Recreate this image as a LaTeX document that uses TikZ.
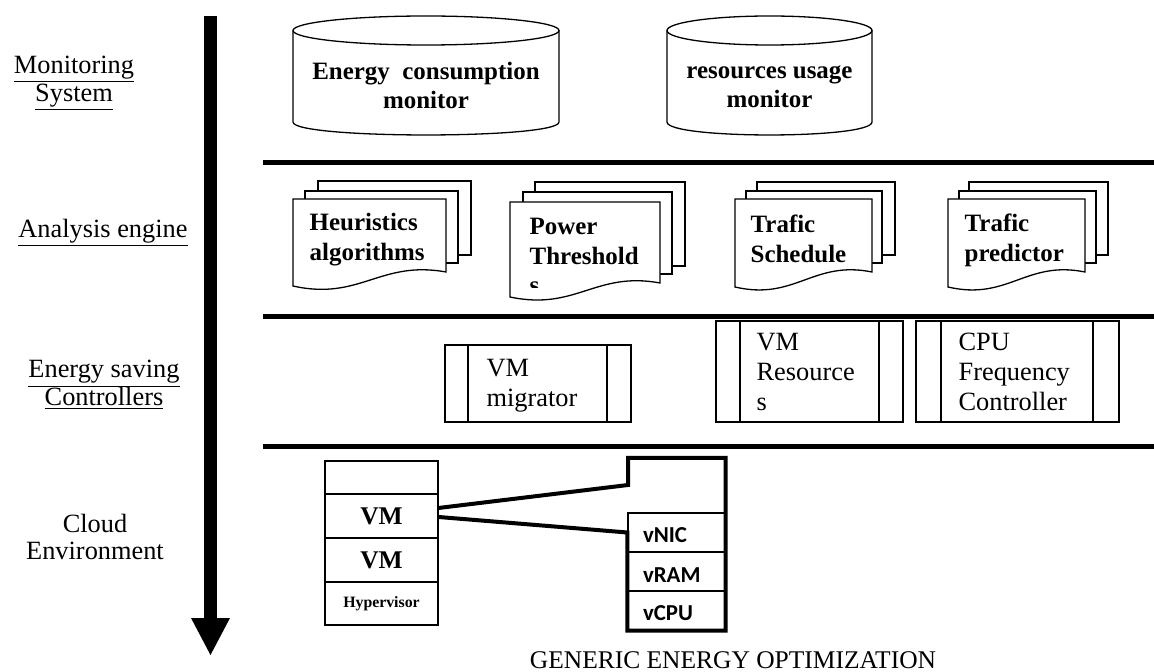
\documentclass[tikz,border=0pt]{standalone}
\usepackage{fontspec}
\setmainfont{Liberation Serif}
\newfontfamily\vrowfont{Carlito}
\newlength{\du}
\setlength{\du}{0.020000cm}

\begin{document}
\begin{tikzpicture}[even odd rule,
  sidelabel/.style={align=center,inner sep=0pt,font=\fontsize{15}{15.9}\selectfont},
  cyllabel/.style={align=center,inner sep=0pt,font=\bfseries\fontsize{14.2}{16.5}\selectfont},
  doclabel/.style={align=left,anchor=west,inner sep=0pt,font=\bfseries\fontsize{14.2}{17}\selectfont},
  ctllabel/.style={align=left,anchor=west,inner sep=0pt,font=\fontsize{15}{17}\selectfont},
  sheet/.style={draw=dialinecolor,fill=diafillcolor},
  stackrow/.style={draw=dialinecolor,line width=1.300000\du,minimum width=113\du,inner sep=0pt,font=\bfseries\fontsize{14.5}{16}\selectfont},
  vrow/.style={draw=dialinecolor,line width=1.300000\du,minimum height=39\du,text width=67\du,text height=12pt,inner xsep=15\du,inner ysep=0pt,align=left,font=\vrowfont\bfseries\fontsize{13}{15}\selectfont}]
\pgftransformxscale{1.000000}
\pgftransformyscale{-1.000000}
\definecolor{dialinecolor}{rgb}{0.000000, 0.000000, 0.000000}
\pgfsetstrokecolor{dialinecolor}
\definecolor{diafillcolor}{rgb}{1.000000, 1.000000, 1.000000}
\pgfsetfillcolor{diafillcolor}
\useasboundingbox (0.000000\du,0.000000\du) rectangle (1154.000000\du,672.000000\du);
\pgfsetmiterjoin
\pgfsetbuttcap
% big downward arrow
\fill[dialinecolor] (204.000000\du,16.000000\du)--(217.000000\du,16.000000\du)--(217.000000\du,619.000000\du)--(204.000000\du,619.000000\du)--cycle;
\fill[dialinecolor] (191.000000\du,618.000000\du)--(230.000000\du,618.000000\du)--(210.500000\du,655.000000\du)--cycle;
% layer names
\node[sidelabel] (monsys) at (74.000000\du,83.000000\du) {\underline{Monitoring}\\\underline{System}};
\node[sidelabel] (anaeng) at (103.000000\du,233.000000\du) {\underline{Analysis engine}};
\node[sidelabel] (savctl) at (104.000000\du,385.000000\du) {\underline{Energy saving}\\\underline{Controllers}};
\node[sidelabel] (cloudenv) at (95.000000\du,537.000000\du) {Cloud\\Environment};
% layer separators
\pgfsetlinewidth{5.000000\du}
\draw (263.000000\du,163.000000\du)--(1154.000000\du,163.000000\du);
\draw (263.000000\du,317.000000\du)--(1154.000000\du,317.000000\du);
\draw (263.000000\du,447.000000\du)--(1154.000000\du,447.000000\du);
% monitors
\pgfsetlinewidth{1.300000\du}
\draw[fill=diafillcolor] (293.000000\du,30.500000\du)--(293.000000\du,122.000000\du) .. controls (293.000000\du,139.300000\du) and (559.000000\du,139.300000\du) .. (559.000000\du,122.000000\du)--(559.000000\du,30.500000\du);
\draw[fill=diafillcolor] (426.000000\du,30.500000\du) ellipse [x radius=133.000000\du, y radius=14.500000\du];
\node[cyllabel] (emon) at (426.000000\du,85.000000\du) {Energy\ \ consumption\\monitor};
\draw[fill=diafillcolor] (667.000000\du,30.500000\du)--(667.000000\du,122.000000\du) .. controls (667.000000\du,139.300000\du) and (872.000000\du,139.300000\du) .. (872.000000\du,122.000000\du)--(872.000000\du,30.500000\du);
\draw[fill=diafillcolor] (769.500000\du,30.500000\du) ellipse [x radius=102.500000\du, y radius=14.500000\du];
\node[cyllabel] (rmon) at (769.500000\du,87.000000\du) {resources usage\\monitor};
% analysis documents
\draw[sheet] (318.000000\du,181.000000\du)--(471.000000\du,181.000000\du)--(471.000000\du,255.000000\du)--(318.000000\du,255.000000\du)--cycle;
\draw[sheet] (305.000000\du,191.000000\du)--(458.000000\du,191.000000\du)--(458.000000\du,263.000000\du)--(305.000000\du,263.000000\du)--cycle;
\draw[sheet] (293.000000\du,199.000000\du)--(446.000000\du,199.000000\du)--(446.000000\du,272.000000\du) .. controls (380.000000\du,260.000000\du) and (360.000000\du,301.000000\du) .. (293.000000\du,286.000000\du)--cycle;
\node[doclabel] (heur) at (309.000000\du,240.000000\du) {Heuristics\\algorithms};
\draw[sheet] (535.000000\du,182.000000\du)--(685.000000\du,182.000000\du)--(685.000000\du,266.000000\du)--(535.000000\du,266.000000\du)--cycle;
\draw[sheet] (523.000000\du,192.000000\du)--(672.000000\du,192.000000\du)--(672.000000\du,274.000000\du)--(523.000000\du,274.000000\du)--cycle;
\draw[sheet] (510.000000\du,202.000000\du)--(660.000000\du,202.000000\du)--(660.000000\du,283.000000\du) .. controls (595.500000\du,271.000000\du) and (576.000000\du,311.000000\du) .. (510.000000\du,297.000000\du)--cycle;
\begin{scope}
\clip (500.000000\du,200.000000\du) rectangle (680.000000\du,288.000000\du);
\node[doclabel] (power) at (529.000000\du,256.000000\du) {Power\\Threshold\\s};
\end{scope}
\draw[sheet] (757.000000\du,182.000000\du)--(895.000000\du,182.000000\du)--(895.000000\du,255.000000\du)--(757.000000\du,255.000000\du)--cycle;
\draw[sheet] (746.000000\du,191.000000\du)--(882.000000\du,191.000000\du)--(882.000000\du,263.000000\du)--(746.000000\du,263.000000\du)--cycle;
\draw[sheet] (735.000000\du,199.000000\du)--(872.000000\du,199.000000\du)--(872.000000\du,272.000000\du) .. controls (813.000000\du,260.000000\du) and (795.000000\du,301.000000\du) .. (735.000000\du,287.000000\du)--cycle;
\node[doclabel] (tsched) at (750.000000\du,239.000000\du) {Trafic\\Schedule};
\draw[sheet] (969.000000\du,182.000000\du)--(1108.000000\du,182.000000\du)--(1108.000000\du,255.000000\du)--(969.000000\du,255.000000\du)--cycle;
\draw[sheet] (959.000000\du,191.000000\du)--(1096.000000\du,191.000000\du)--(1096.000000\du,263.000000\du)--(959.000000\du,263.000000\du)--cycle;
\draw[sheet] (948.000000\du,199.000000\du)--(1085.000000\du,199.000000\du)--(1085.000000\du,272.000000\du) .. controls (1026.000000\du,260.000000\du) and (1008.000000\du,301.000000\du) .. (948.000000\du,287.000000\du)--cycle;
\node[doclabel] (tpred) at (964.000000\du,240.000000\du) {Trafic\\predictor};
% controllers
\draw[sheet] (445.000000\du,345.000000\du)--(631.000000\du,345.000000\du)--(631.000000\du,422.000000\du)--(445.000000\du,422.000000\du)--cycle;
\draw (468.000000\du,345.000000\du)--(468.000000\du,422.000000\du);
\draw (607.000000\du,345.000000\du)--(607.000000\du,422.000000\du);
\node[ctllabel] (vmmig) at (486.000000\du,386.000000\du) {VM\\migrator};
\draw[sheet] (716.000000\du,321.000000\du)--(903.000000\du,321.000000\du)--(903.000000\du,422.000000\du)--(716.000000\du,422.000000\du)--cycle;
\draw (740.000000\du,321.000000\du)--(740.000000\du,422.000000\du);
\draw (879.000000\du,321.000000\du)--(879.000000\du,422.000000\du);
\node[ctllabel] (vmres) at (756.000000\du,372.000000\du) {VM\\Resource\\s};
\draw[sheet] (916.000000\du,321.000000\du)--(1119.000000\du,321.000000\du)--(1119.000000\du,422.000000\du)--(916.000000\du,422.000000\du)--cycle;
\draw (941.000000\du,321.000000\du)--(941.000000\du,422.000000\du);
\draw (1093.000000\du,321.000000\du)--(1093.000000\du,422.000000\du);
\node[ctllabel] (cpufreq) at (958.000000\du,372.000000\du) {CPU\\Frequency\\Controller};
% cloud environment
\node[stackrow,minimum height=33\du] (vmslot) at (381.500000\du,477.500000\du) {};
\node[stackrow,minimum height=44\du] (vma) at (381.500000\du,516.000000\du) {VM};
\node[stackrow,minimum height=44\du] (vmb) at (381.500000\du,560.000000\du) {VM};
\node[stackrow,minimum height=43\du,font=\bfseries\fontsize{9}{10}\selectfont] (hyp) at (381.500000\du,603.500000\du) {Hypervisor};
\node[vrow] (vnic) at (676.500000\du,532.500000\du) {vNIC};
\node[vrow] (vram) at (676.500000\du,571.500000\du) {vRAM};
\node[vrow] (vcpu) at (676.500000\du,610.500000\du) {vCPU};
\coordinate (cokink) at (628.000000\du,485.000000\du);
\coordinate (cotop) at (628.000000\du,458.000000\du);
\pgfsetlinewidth{4.000000\du}
\draw (vma.8)--(cokink)--(cotop)--(cotop -| vcpu.east)--(vcpu.south east)--(vcpu.south west)--(vnic.west)--(vma.-1);
\node[inner sep=0pt,font=\fontsize{14.5}{16}\selectfont] (gtitle) at (733.000000\du,660.000000\du) {GENERIC ENERGY OPTIMIZATION};
\end{tikzpicture}
\end{document}
